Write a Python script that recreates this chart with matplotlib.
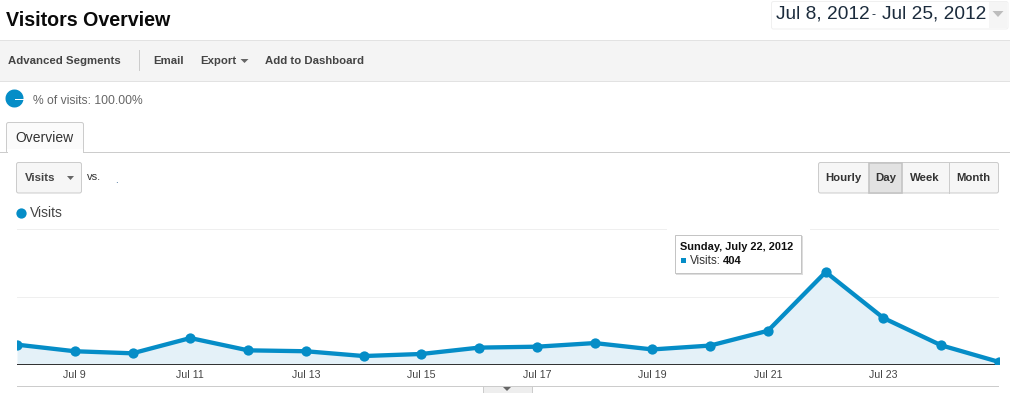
import matplotlib
matplotlib.use('Agg')
import matplotlib.pyplot as plt
from matplotlib.patches import Rectangle, FancyBboxPatch, Polygon, Wedge

plt.rcParams['font.family'] = ['Liberation Sans', 'DejaVu Sans']

days = list(range(8, 26))
visits = [85, 56, 47, 114, 60, 56, 35, 44, 72, 76, 92, 64, 81, 146, 404, 202, 82, 9]
tick_days = [9, 11, 13, 15, 17, 19, 21, 23]
tick_labels = ['Jul 9', 'Jul 11', 'Jul 13', 'Jul 15', 'Jul 17', 'Jul 19', 'Jul 21', 'Jul 23']
grid_values = [294, 591]
range_buttons = ['Hourly', 'Day', 'Week', 'Month']
button_edges = [818, 869, 902, 948, 999]
toolbar_items = [('Advanced Segments', 8), ('Email', 153), ('Export', 200), ('Add to Dashboard', 265)]

BLUE = '#058dc7'
W, H = 1010, 393
THIN = 0.72

fig = plt.figure(figsize=(W / 100, H / 100), dpi=100)

# page chrome, drawn in pixel coordinates
ui = fig.add_axes([0, 0, 1, 1], zorder=1)
ui.set_xlim(0, W)
ui.set_ylim(H, 0)
ui.axis('off')


def round_box(x0, y0, x1, y1, fc, ec, lw=THIN, z=2, r=2):
    ui.add_patch(FancyBboxPatch((x0, y0), x1 - x0, y1 - y0, boxstyle='round,pad=0,rounding_size=%s' % r,
                                fc=fc, ec=ec, lw=lw, zorder=z))


def arrow(x, y, w, h, color):
    ui.add_patch(Polygon([(x - w / 2, y - h / 2), (x + w / 2, y - h / 2), (x, y + h / 2)], fc=color, ec='none', zorder=4))


ui.text(6, 21, 'Visitors Overview', fontsize=14.1, fontweight='bold', color='#0a0a0a', va='center')

# date picker
round_box(771.5, 1.5, 1008, 29, 'white', '#f0f0f0')
ui.add_patch(Rectangle((989, 2), 18, 26, fc='#f5f5f5', ec='none', zorder=3))
arrow(998, 14, 11, 6, '#bdbdbd')
ui.text(776, 14, 'Jul 8, 2012', fontsize=13.8, color='#1b2b3c', va='center')
ui.text(874, 15, '-', fontsize=9, color='#1b2b3c', va='center', ha='center')
ui.text(882, 14, 'Jul 25, 2012', fontsize=13.8, color='#1b2b3c', va='center')

# toolbar
ui.add_patch(Rectangle((0, 39.5), W, 41, fc='#f4f4f4', ec='none', zorder=1))
ui.plot([0, W], [39.5, 39.5], color='#e2e2e2', lw=THIN, zorder=2)
ui.plot([0, W], [80.5, 80.5], color='#e2e2e2', lw=THIN, zorder=2)
for label, x in toolbar_items:
    ui.text(x, 60.5, label, fontsize=8.2, fontweight='bold', color='#444444', va='center')
ui.plot([138.5, 138.5], [50, 70], color='#cccccc', lw=THIN, zorder=2)
arrow(244.5, 61, 8, 4, '#666666')

# percent of visits
ui.add_patch(Wedge((14.5, 98.5), 9, 0, 360, fc=BLUE, ec='none', zorder=2))
ui.plot([14.5, 23.5], [98.5, 98.5], color='white', lw=THIN, zorder=3)
ui.text(33, 100.5, '% of visits: 100.00%', fontsize=8.7, color='#666666', va='center')

# tab line and tab
ui.plot([0, W], [151.5, 151.5], color='#cccccc', lw=THIN, zorder=1)
round_box(6.5, 122.5, 83.5, 153, '#fbfbfb', '#cccccc')
ui.add_patch(Rectangle((7, 149), 76, 5, fc='white', ec='none', zorder=3))
ui.plot([0, 6.5], [151.5, 151.5], color='#cccccc', lw=THIN, zorder=4)
ui.text(15.5, 137.5, 'Overview', fontsize=10, color='#333333', va='center', zorder=4)

# metric selector
round_box(16.5, 162.5, 81.5, 193, '#f6f6f6', '#cccccc')
ui.text(25, 178, 'Visits', fontsize=8.2, fontweight='bold', color='#444444', va='center', zorder=4)
arrow(70.5, 178, 7, 4, '#666666')
ui.text(87, 177, 'vs.', fontsize=8, color='#333333', va='center')
ui.text(115.5, 180, '.', fontsize=7, color='#225588', va='center')

# hourly/day/week/month buttons
round_box(818.5, 162.5, 998.5, 193, '#f6f6f6', '#cccccc')
ui.add_patch(Rectangle((869, 163), 33, 29.5, fc='#e2e2e2', ec='#c4c4c4', lw=1.2, zorder=3))
for i, label in enumerate(range_buttons):
    ui.text((button_edges[i] + button_edges[i + 1]) / 2, 178, label, fontsize=8.2, fontweight='bold',
            color='#333333', va='center', ha='center', zorder=4)
    if i > 2:
        ui.plot([button_edges[i] + 0.5] * 2, [163, 193], color='#cccccc', lw=THIN, zorder=3)

# legend
ui.plot([21], [212.5], marker='o', ms=7.4, color=BLUE, mec='none', zorder=3)
ui.text(30, 213, 'Visits', fontsize=10, color='#444444', va='center')

# bottom border and splitter
ui.plot([17, 998], [385.5, 385.5], color='#cccccc', lw=THIN, zorder=1)
ui.add_patch(Rectangle((482.5, 386), 49, 8, fc='#eeeeee', ec='#cccccc', lw=THIN, zorder=2))
arrow(507, 389, 8, 4, '#666666')

# the chart
ax = fig.add_axes([17 / W, 1 - 364 / H, 982 / W, 140 / H], zorder=2)
ax.patch.set_alpha(0)
ax.set_xlim(8, 25)
ax.set_ylim(0, 615)
ax.fill_between(days, visits, 0, color='#e4f1f8', lw=0, zorder=1)
ax.plot(days, visits, color=BLUE, lw=3.1, marker='o', ms=7.4, mec='none', zorder=3)
ax.set_yticks(grid_values)
ax.set_yticklabels([])
ax.grid(axis='y', color='#efefef', lw=THIN)
ax.set_axisbelow(True)
ax.set_xticks(tick_days)
ax.set_xticklabels(tick_labels, fontsize=7.7, color='#444444')
ax.tick_params(axis='both', length=0)
ax.tick_params(axis='x', pad=4.5)
for side in ['top', 'left', 'right']:
    ax.spines[side].set_visible(False)
ax.spines['bottom'].set_color('#333333')
ax.spines['bottom'].set_linewidth(THIN)

# tooltip for the peak
tip = fig.add_axes([0, 0, 1, 1], zorder=3)
tip.set_xlim(0, W)
tip.set_ylim(H, 0)
tip.axis('off')
tip.add_patch(Rectangle((667, 228), 143, 4, fc='white', ec='none', zorder=1))
tip.add_patch(Rectangle((676, 236), 126.5, 38.5, fc='#dddddd', ec='none', zorder=2))
tip.add_patch(Rectangle((675, 234.5), 126, 38.5, fc='white', ec='#c4c4c4', lw=THIN, zorder=3))
tip.text(680.5, 246.5, 'Sunday, July 22, 2012', fontsize=7.9, fontweight='bold', color='#111111', va='center', zorder=4)
tip.add_patch(Rectangle((681, 258), 4.5, 4.5, fc=BLUE, ec='none', zorder=4))
tip.text(690, 260.5, 'Visits:', fontsize=8.4, color='#333333', va='center', zorder=4)
tip.text(723, 260.5, str(visits[days.index(22)]), fontsize=8, fontweight='bold', color='#111111', va='center', zorder=4)

fig.savefig('out.png', dpi=100)
